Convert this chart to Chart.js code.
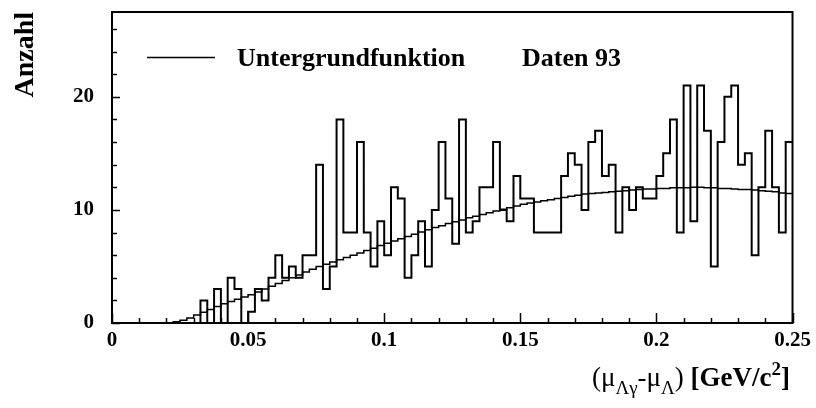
<!DOCTYPE html>
<html><head><meta charset="utf-8">
<script src="https://cdn.jsdelivr.net/npm/chart.js@4.4.1/dist/chart.umd.min.js"></script>
<style>html,body{margin:0;padding:0;background:#fff;}canvas{display:block;}</style>
</head><body>
<canvas id="c" width="816" height="408"></canvas>
<script>
// ---- data ----
const binStart = 0;
const binWidth = 0.0025;
const counts = [
  0,0,0,0,0,0,0,0,0,0,
  0,0,0,2,0,3,0,4,3,0,
  1,3,2,4,6,4,5,4,6,6,
  14,3,5,18,8,8,16,8,5,9,
  6,12,11,4,6,9,5,10,16,11,
  7,18,8,9,12,12,16,10,9,13,
  11,11,8,8,8,8,13,15,14,10,
  16,17,13,14,8,12,10,12,11,11,
  13,15,18,8,21,9,21,17,5,16,
  20,21,14,15,6,12,17,12,8,16
];
const fitValues = [
  0,0,0,0,0,0,0,0,0,0.1,
  0.25,0.45,0.7,0.95,1.2,1.45,1.7,1.9,2.1,2.3,
  2.5,2.75,3.0,3.25,3.5,3.75,4.0,4.25,4.5,4.75,
  5.0,5.2,5.4,5.6,5.8,6.0,6.2,6.4,6.6,6.85,
  7.05,7.25,7.45,7.65,7.85,8.05,8.25,8.45,8.6,8.8,
  8.95,9.1,9.3,9.45,9.6,9.75,9.9,10.05,10.2,10.35,
  10.5,10.6,10.7,10.8,10.9,11.0,11.1,11.2,11.3,11.4,
  11.45,11.5,11.55,11.6,11.65,11.7,11.75,11.8,11.85,11.85,
  11.9,11.9,11.95,11.95,11.95,12.0,12.0,11.95,11.95,11.9,
  11.9,11.85,11.8,11.8,11.75,11.7,11.65,11.6,11.5,11.45
];
const xTickLabels = ['0','0.05','0.1','0.15','0.2','0.25'];
const yTickLabels = ['0','10','20'];
const xMinorStep = 0.01, xMajorStep = 0.05;
const yMinorStep = 2, yMajorStep = 10;
const legendLabels = ['Untergrundfunktion', 'Daten 93'];
const yTitle = 'Anzahl';

// ---- build step outlines from the bins ----
function stepPoints(vals) {
  const pts = [];
  vals.forEach((v, i) => {
    const lo = binStart + i * binWidth;
    pts.push({x: lo, y: v}, {x: lo + binWidth, y: v});
  });
  return pts;
}

const SERIF = "'Liberation Serif','Times New Roman',serif";

const extras = {
  id: 'extras',
  afterDatasetsDraw(chart) {
    const ctx = chart.ctx, a = chart.chartArea;
    const xs = chart.scales.x, ys = chart.scales.y;
    ctx.save();
    ctx.strokeStyle = '#000';
    ctx.fillStyle = '#000';
    // ticks (inside)
    ctx.lineWidth = 1.5;
    ctx.beginPath();
    const nx = Math.round((xs.max - xs.min) / xMinorStep);
    for (let i = 0; i <= nx; i++) {
      const v = xs.min + i * xMinorStep;
      const px = Math.round(xs.getPixelForValue(v)) + 0.5;
      const major = Math.abs(v / xMajorStep - Math.round(v / xMajorStep)) < 1e-6;
      ctx.moveTo(px, a.bottom);
      ctx.lineTo(px, a.bottom - (major ? 10 : 5));
    }
    for (let v = 0; v <= ys.max; v += yMinorStep) {
      const py = Math.round(ys.getPixelForValue(v)) + 0.5;
      const major = v % yMajorStep === 0;
      ctx.moveTo(a.left, py);
      ctx.lineTo(a.left + (major ? 8 : 5), py);
    }
    ctx.stroke();
    // frame
    ctx.lineWidth = 2;
    ctx.strokeRect(a.left, a.top, a.right - a.left, a.bottom - a.top);

    // legend
    ctx.lineWidth = 1.5;
    ctx.beginPath();
    ctx.moveTo(147, 57.5);
    ctx.lineTo(215, 57.5);
    ctx.stroke();
    ctx.font = 'bold 26px ' + SERIF;
    ctx.textBaseline = 'alphabetic';
    ctx.textAlign = 'left';
    ctx.fillText(legendLabels[0], 237, 66);
    ctx.fillText(legendLabels[1], 522, 66);

    // y title
    ctx.save();
    ctx.translate(33, 12);
    ctx.rotate(-Math.PI / 2);
    ctx.font = 'bold 28px ' + SERIF;
    ctx.textAlign = 'right';
    ctx.fillText(yTitle, 0, 0);
    ctx.restore();

    // x title with sub/superscripts
    const big = 27, small = 19;
    const parts = [
      {t: '(\u03BC', f: big + 'px ' + SERIF, dy: 0},
      {t: '\u039B\u03B3', f: small + 'px ' + SERIF, dy: 8},
      {t: '-\u03BC', f: big + 'px ' + SERIF, dy: 0},
      {t: '\u039B', f: small + 'px ' + SERIF, dy: 8},
      {t: ') ', f: big + 'px ' + SERIF, dy: 0},
      {t: '[GeV/c', f: 'bold ' + big + 'px ' + SERIF, dy: 0},
      {t: '2', f: 'bold ' + small + 'px ' + SERIF, dy: -11},
      {t: ']', f: 'bold ' + big + 'px ' + SERIF, dy: 0}
    ];
    let total = 0;
    parts.forEach(p => { ctx.font = p.f; p.w = ctx.measureText(p.t).width; total += p.w; });
    let x = 790 - total;
    const base = 386;
    ctx.textAlign = 'left';
    parts.forEach(p => { ctx.font = p.f; ctx.fillText(p.t, x, base + p.dy); x += p.w; });
    ctx.restore();
  }
};

new Chart(document.getElementById('c'), {
  type: 'line',
  data: {
    datasets: [
      {
        label: legendLabels[1],
        data: stepPoints(counts),
        borderColor: '#000',
        borderWidth: 2,
        pointRadius: 0,
        tension: 0,
        fill: false
      },
      {
        label: legendLabels[0],
        data: stepPoints(fitValues),
        borderColor: '#000',
        borderWidth: 1.5,
        pointRadius: 0,
        tension: 0,
        fill: false
      }
    ]
  },
  options: {
    responsive: false,
    animation: false,
    devicePixelRatio: 1,
    layout: {padding: {top: 12, right: 23.5, left: 0, bottom: 0}},
    plugins: {legend: {display: false}, tooltip: {enabled: false}, title: {display: false}},
    scales: {
      x: {
        type: 'linear', min: 0, max: 0.25,
        afterFit: s => { s.height = 85; s.paddingLeft = 0; s.paddingRight = 0; },
        grid: {display: false, drawTicks: false},
        border: {display: false},
        ticks: {
          stepSize: xMajorStep, autoSkip: false, maxRotation: 0, padding: 5, color: '#000',
          font: {family: SERIF, weight: 'bold', size: 21},
          callback: v => xTickLabels.find(l => Math.abs(parseFloat(l) - v) < 1e-9)
        }
      },
      y: {
        type: 'linear', min: 0, max: 27.5,
        afterFit: s => { s.width = 112; s.paddingTop = 0; s.paddingBottom = 0; },
        grid: {display: false, drawTicks: false},
        border: {display: false},
        ticks: {
          stepSize: yMajorStep, includeBounds: false, padding: 18, color: '#000',
          font: {family: SERIF, weight: 'bold', size: 21},
          callback: v => yTickLabels.find(l => Math.abs(parseFloat(l) - v) < 1e-9)
        }
      }
    }
  },
  plugins: [extras]
});
</script>
</body></html>
